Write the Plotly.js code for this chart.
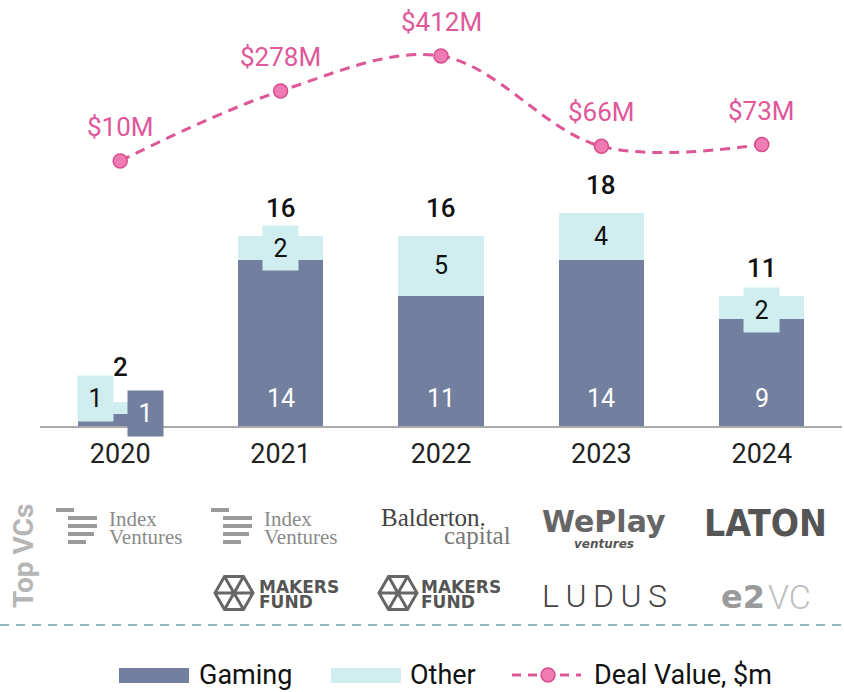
<!DOCTYPE html>
<html>
<head>
<meta charset="utf-8">
<script src="https://cdn.plot.ly/plotly-3.0.1.min.js"></script>
<style>html,body{margin:0;padding:0;background:#fff;}#chart{width:844px;height:692px;}</style>
</head>
<body>
<div id="chart"></div>
<script>
// ---- data ----
const years = ['2020', '2021', '2022', '2023', '2024'];
const gaming = [1, 14, 11, 14, 9];
const other = [1, 2, 5, 4, 2];
const dealValue = [10, 278, 412, 66, 73];
const dealLabels = ['$10M', '$278M', '$412M', '$66M', '$73M'];
const legendNames = ['Gaming', 'Other', 'Deal Value, $m'];

// ---- style ----
const C_GAME = '#737f9f';
const C_OTHER = '#d0eef0';
const C_PINK = '#dd5696';
const C_PINK_TXT = '#e0579a';
const FONT = 'Roboto, "Open Sans", sans-serif';

// plot area in pixels
const L = 40, R = 842, T = 10, B = 426;
const px = x => (x - L) / (R - L);
const py = y => (B - y) / (B - T);

const totals = gaming.map((g, i) => g + other[i]);

const traces = [
  { type: 'bar', name: legendNames[0], x: years, y: gaming, marker: { color: C_GAME }, hoverinfo: 'skip', showlegend: false },
  { type: 'bar', name: legendNames[1], x: years, y: other, marker: { color: C_OTHER }, hoverinfo: 'skip', showlegend: false },
  { type: 'scatter', name: legendNames[2], x: years, y: dealValue, yaxis: 'y2', mode: 'lines+markers',
    line: { shape: 'spline', smoothing: 1, dash: '10px,7px', color: C_PINK, width: 3 },
    marker: { size: 14, color: '#ee7cb3', line: { color: '#d84c8d', width: 1.5 } },
    hoverinfo: 'skip', showlegend: false }
];

const ann = [];
const shapes = [];

// data labels (x given as category index)
years.forEach((yr, i) => {
  ann.push({ x: i, y: totals[i], xref: 'x', yref: 'y', text: String(totals[i]), showarrow: false,
    xanchor: 'center', yanchor: 'middle', yshift: i === 0 ? 35 : 28, font: { family: FONT, size: 26, color: '#111', weight: 500 } });
  ann.push({ x: i, y: dealValue[i], xref: 'x', yref: 'y2', text: dealLabels[i], showarrow: false,
    xanchor: 'center', yanchor: 'middle', yshift: 34, font: { family: FONT, size: 26, color: C_PINK_TXT } });
  if (i === 0) {
    ann.push({ x: i, y: 0, xref: 'x', yref: 'y', text: String(other[i]), showarrow: false,
      xanchor: 'center', xshift: -25, yshift: 27.5, yanchor: 'middle', width: 33, height: 43, bgcolor: C_OTHER,
      font: { family: FONT, size: 25, color: '#111' } });
    ann.push({ x: i, y: 0, xref: 'x', yref: 'y', text: String(gaming[i]), showarrow: false,
      xanchor: 'center', xshift: 25, yshift: 12.5, yanchor: 'middle', width: 33, height: 43, bgcolor: C_GAME,
      font: { family: FONT, size: 25, color: '#fff' } });
  } else {
    ann.push({ x: i, y: 0, xref: 'x', yref: 'y', text: String(gaming[i]), showarrow: false,
      xanchor: 'center', yshift: 28, yanchor: 'middle', font: { family: FONT, size: 25, color: '#fff' } });
    const boxed = other[i] <= 2;
    const o = { x: i, y: gaming[i] + other[i] / 2, xref: 'x', yref: 'y', text: String(other[i]), showarrow: false,
      xanchor: 'center', yanchor: 'middle', font: { family: FONT, size: 25, color: '#111' } };
    if (boxed) { o.width = 33; o.height = 42; o.bgcolor = C_OTHER; if (i === 4) o.yshift = -3; }
    ann.push(o);
  }
});

// ---- Top VCs panel ----
const grey = '#8a8a8a';
ann.push({ xref: 'paper', yref: 'paper', x: px(23), y: py(556), xanchor: 'center', yanchor: 'middle', text: '<b>Top VCs</b>', textangle: -90, showarrow: false,
  font: { family: FONT, size: 28, color: '#b5b5b5' } });

function indexLogo(dx) {
  const lines = [[56, 74, 510], [68, 97, 518], [68, 97, 526], [68, 94, 534], [68, 86, 542]];
  lines.forEach(l => shapes.push({ type: 'line', xref: 'paper', yref: 'paper', x0: px(l[0] + dx), x1: px(l[1] + dx), y0: py(l[2]), y1: py(l[2]),
    line: { color: '#9a9a9a', width: 4 } }));
  ann.push({ xref: 'paper', yref: 'paper', x: px(107 + dx), y: py(519), xanchor: 'left', yanchor: 'middle', text: 'Index', showarrow: false,
    font: { family: '"Liberation Serif", "DejaVu Serif", serif', size: 21, color: grey } });
  ann.push({ xref: 'paper', yref: 'paper', x: px(107 + dx), y: py(537), xanchor: 'left', yanchor: 'middle', text: 'Ventures', showarrow: false,
    font: { family: '"Liberation Serif", "DejaVu Serif", serif', size: 21, color: grey } });
}
indexLogo(0);
indexLogo(155);

ann.push({ xref: 'paper', yref: 'paper', x: px(379), y: py(517), xanchor: 'left', yanchor: 'middle', text: 'Balderton.', showarrow: false,
  font: { family: '"Liberation Serif", "DejaVu Serif", serif', size: 25, color: '#444' } });
ann.push({ xref: 'paper', yref: 'paper', x: px(513), y: py(535), xanchor: 'right', yanchor: 'middle', text: 'capital', showarrow: false,
  font: { family: '"Liberation Serif", "DejaVu Serif", serif', size: 25, color: '#777' } });

ann.push({ xref: 'paper', yref: 'paper', x: px(604), y: py(521), xanchor: 'center', yanchor: 'middle', text: 'WePlay', showarrow: false,
  font: { family: '"DejaVu Sans", sans-serif', size: 30, color: '#666', weight: 700 } });
ann.push({ xref: 'paper', yref: 'paper', x: px(604), y: py(544), xanchor: 'center', yanchor: 'middle', text: '<i>ventures</i>', showarrow: false,
  font: { family: '"DejaVu Sans", sans-serif', size: 12, color: '#555', weight: 700 } });

ann.push({ xref: 'paper', yref: 'paper', x: px(765), y: py(523), xanchor: 'center', yanchor: 'middle', text: 'LATON', showarrow: false,
  font: { family: '"DejaVu Sans Condensed", "Liberation Sans Narrow", "Liberation Sans", sans-serif', size: 37, color: '#555', weight: 700 } });

function makersLogo(cx, tx) {
  const cy = 593, r = 19;
  const v = [];
  for (let k = 0; k < 6; k++) { const a = Math.PI / 3 * k; v.push([cx + r * Math.cos(a), cy - r * Math.sin(a)]); }
  let p = 'M' + v.map(q => px(q[0]) + ',' + py(q[1])).join('L') + 'Z';
  for (let k = 0; k < 3; k++) { p += ' M' + px(v[k][0]) + ',' + py(v[k][1]) + 'L' + px(v[k + 3][0]) + ',' + py(v[k + 3][1]); }
  shapes.push({ type: 'path', xref: 'paper', yref: 'paper', path: p, line: { color: '#666', width: 3 } });
  ann.push({ xref: 'paper', yref: 'paper', x: px(tx), y: py(587), xanchor: 'left', yanchor: 'middle', text: '<b>MAKERS</b>', showarrow: false,
    font: { family: '"DejaVu Sans", sans-serif', size: 17, color: '#555' } });
  ann.push({ xref: 'paper', yref: 'paper', x: px(tx), y: py(602), xanchor: 'left', yanchor: 'middle', text: '<b>FUND</b>', showarrow: false,
    font: { family: '"DejaVu Sans", sans-serif', size: 17, color: '#555' } });
}
makersLogo(234, 257);
makersLogo(398, 419);

ann.push({ xref: 'paper', yref: 'paper', x: px(604), y: py(596), xanchor: 'center', yanchor: 'middle', text: 'L\u2009U\u2009D\u2009U\u2009S', showarrow: false,
  font: { family: FONT, size: 32, color: '#444', weight: 300 } });
ann.push({ xref: 'paper', yref: 'paper', x: px(767), y: py(597), xanchor: 'right', yanchor: 'middle', text: 'e2', showarrow: false,
  font: { family: '"DejaVu Sans", sans-serif', size: 32, color: '#9a9a9a', weight: 700 } });
ann.push({ xref: 'paper', yref: 'paper', x: px(766), y: py(597), xanchor: 'left', yanchor: 'middle', text: 'VC', showarrow: false,
  font: { family: FONT, size: 34, color: '#c0c0c0', weight: 300 } });

// separator
shapes.push({ type: 'line', xref: 'paper', yref: 'paper', x0: px(0), x1: px(844), y0: py(625), y1: py(625),
  line: { color: '#93b8b8', width: 2, dash: '9px,7px' } });

// ---- custom legend ----
const LY = 675;
shapes.push({ type: 'rect', xref: 'paper', yref: 'paper', x0: px(119), x1: px(189), y0: py(668), y1: py(683), fillcolor: C_GAME, line: { width: 0 } });
shapes.push({ type: 'rect', xref: 'paper', yref: 'paper', x0: px(331), x1: px(401), y0: py(668), y1: py(683), fillcolor: C_OTHER, line: { width: 0 } });
shapes.push({ type: 'line', xref: 'paper', yref: 'paper', x0: px(512), x1: px(581), y0: py(LY), y1: py(LY), line: { color: C_PINK, width: 3, dash: '9px,7px' } });
shapes.push({ type: 'circle', xref: 'paper', yref: 'paper', x0: px(541), x1: px(555), y0: py(LY - 7), y1: py(LY + 7), fillcolor: '#ee7cb3', line: { color: '#d84c8d', width: 1.5 } });
[[197, legendNames[0]], [408, legendNames[1]], [592, legendNames[2]]].forEach(d => {
  ann.push({ xref: 'paper', yref: 'paper', x: px(d[0]), y: py(LY), xanchor: 'left', yanchor: 'middle', text: d[1], showarrow: false,
    font: { family: FONT, size: 27, color: '#111' } });
});

const layout = {
  width: 844, height: 692,
  margin: { l: L, r: 844 - R, t: T, b: 692 - B, pad: 0 },
  paper_bgcolor: '#fff', plot_bgcolor: '#fff',
  barmode: 'stack', bargap: 0.47,
  showlegend: false,
  xaxis: { type: 'category', range: [-0.5, 4.5], showline: true, linecolor: '#aaaaaa', linewidth: 2,
    showgrid: false, zeroline: false, ticks: 'outside', ticklen: 3, tickcolor: 'rgba(0,0,0,0)',
    tickfont: { family: FONT, size: 27, color: '#222' }, fixedrange: true },
  yaxis: { range: [0, (B - T) / 11.86], visible: false, fixedrange: true },
  yaxis2: { overlaying: 'y', range: [-1004.6, 588], visible: false, fixedrange: true },
  annotations: ann,
  shapes: shapes,
  font: { family: FONT }
};

Plotly.newPlot('chart', traces, layout, { displayModeBar: false, staticPlot: true });
</script>
</body>
</html>
